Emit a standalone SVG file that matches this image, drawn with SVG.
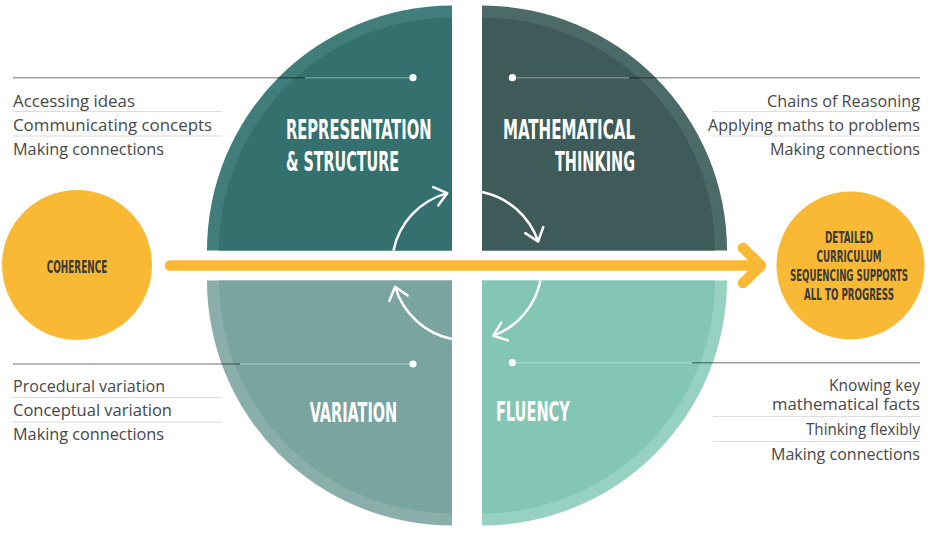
<svg xmlns="http://www.w3.org/2000/svg" width="940" height="543" viewBox="0 0 940 543">
<defs>
<style>
.title{font-family:"Liberation Sans Narrow","DejaVu Sans Condensed","Roboto",sans-serif;font-weight:700;font-size:26px;fill:#ffffff}
.ytxt{font-family:"Liberation Sans Narrow","DejaVu Sans Condensed","Roboto",sans-serif;font-weight:700;fill:#3a3a3a}
.item{font-family:"Open Sans","Noto Sans",sans-serif;font-size:16px;fill:#474747}
.sep{stroke:#dcdcdc;stroke-width:1.2}
.lead{stroke:#000;stroke-opacity:0.38;stroke-width:1.6}
.leadin{stroke:#fff;stroke-opacity:0.28;stroke-width:1.6}
.dot{fill:#ffffff}
.cyc{fill:none;stroke:#ffffff;stroke-width:2.5;marker-end:url(#ah)}
</style>
<marker id="ah" markerUnits="userSpaceOnUse" viewBox="-15 -15 30 30" markerWidth="30" markerHeight="30" refX="0" refY="0" orient="auto" overflow="visible">
<path d="M-12,-9.5 L0,0 L-12,9.5" fill="none" stroke="#ffffff" stroke-width="2.5" stroke-linecap="round" stroke-linejoin="round"/>
</marker>
</defs>
<rect width="940" height="543" fill="#ffffff"/>

<g id="representation-structure">
<path d="M452,250.5 L207,250.5 A245,245 0 0 1 452,5.5 Z" fill="#417d7b"/>
<path d="M452,250.5 L219,250.5 A233,233 0 0 1 452,17.5 Z" fill="#33706e"/>
<text class="title" x="286" y="139.3" textLength="145.5" lengthAdjust="spacingAndGlyphs">REPRESENTATION</text>
<text class="title" x="286" y="171" textLength="113" lengthAdjust="spacingAndGlyphs">&amp; STRUCTURE</text>
</g>

<g id="mathematical-thinking">
<path d="M482,250.5 L482,5.5 A245,245 0 0 1 727,250.5 Z" fill="#4b6a68"/>
<path d="M482,250.5 L482,17.5 A233,233 0 0 1 715,250.5 Z" fill="#3e5a59"/>
<text class="title" x="635" y="139.3" text-anchor="end" textLength="132" lengthAdjust="spacingAndGlyphs">MATHEMATICAL</text>
<text class="title" x="635" y="171" text-anchor="end" textLength="80" lengthAdjust="spacingAndGlyphs">THINKING</text>
</g>

<g id="variation">
<path d="M452,280.5 L452,525.5 A245,245 0 0 1 207,280.5 Z" fill="#8aafab"/>
<path d="M452,280.5 L452,513.5 A233,233 0 0 1 219,280.5 Z" fill="#79a4a0"/>
<text class="title" x="309.7" y="422" textLength="87.5" lengthAdjust="spacingAndGlyphs">VARIATION</text>
</g>

<g id="fluency">
<path d="M482,280.5 L727,280.5 A245,245 0 0 1 482,525.5 Z" fill="#96d1c1"/>
<path d="M482,280.5 L715,280.5 A233,233 0 0 1 482,513.5 Z" fill="#82c6b3"/>
<text class="title" x="495.9" y="420.5" textLength="74" lengthAdjust="spacingAndGlyphs">FLUENCY</text>
</g>

<g id="coherence">
<circle cx="77" cy="265" r="75" fill="#f9b934"/>
<text class="ytxt" x="77" y="273" font-size="17" text-anchor="middle" textLength="60.5" lengthAdjust="spacingAndGlyphs">COHERENCE</text>
</g>

<g id="outcome">
<circle cx="850.5" cy="265.5" r="74" fill="#f9b934"/>
<text class="ytxt" x="849" y="242.5" font-size="15.5" text-anchor="middle" textLength="48" lengthAdjust="spacingAndGlyphs">DETAILED</text>
<text class="ytxt" x="849" y="261.5" font-size="15.5" text-anchor="middle" textLength="65" lengthAdjust="spacingAndGlyphs">CURRICULUM</text>
<text class="ytxt" x="849" y="280.5" font-size="15.5" text-anchor="middle" textLength="118" lengthAdjust="spacingAndGlyphs">SEQUENCING SUPPORTS</text>
<text class="ytxt" x="849" y="299.5" font-size="15.5" text-anchor="middle" textLength="90" lengthAdjust="spacingAndGlyphs">ALL TO PROGRESS</text>
</g>

<g id="list-representation">
<text class="item" x="13" y="106.7" textLength="122" lengthAdjust="spacingAndGlyphs">Accessing ideas</text>
<line class="sep" x1="13" y1="111.5" x2="222" y2="111.5"/>
<text class="item" x="13" y="131" textLength="199" lengthAdjust="spacingAndGlyphs">Communicating concepts</text>
<line class="sep" x1="13" y1="136" x2="222" y2="136"/>
<text class="item" x="13" y="155" textLength="151" lengthAdjust="spacingAndGlyphs">Making connections</text>
</g>

<g id="list-mathematical">
<text class="item" x="920" y="106.7" text-anchor="end" textLength="153" lengthAdjust="spacingAndGlyphs">Chains of Reasoning</text>
<line class="sep" x1="713" y1="111.5" x2="920" y2="111.5"/>
<text class="item" x="920" y="131" text-anchor="end" textLength="212" lengthAdjust="spacingAndGlyphs">Applying maths to problems</text>
<line class="sep" x1="713" y1="136" x2="920" y2="136"/>
<text class="item" x="920" y="155" text-anchor="end" textLength="150" lengthAdjust="spacingAndGlyphs">Making connections</text>
</g>

<g id="list-variation">
<text class="item" x="13" y="392" textLength="152" lengthAdjust="spacingAndGlyphs">Procedural variation</text>
<line class="sep" x1="13" y1="397.5" x2="222" y2="397.5"/>
<text class="item" x="13" y="416" textLength="159" lengthAdjust="spacingAndGlyphs">Conceptual variation</text>
<line class="sep" x1="13" y1="422" x2="222" y2="422"/>
<text class="item" x="13" y="440" textLength="151" lengthAdjust="spacingAndGlyphs">Making connections</text>
</g>

<g id="list-fluency">
<text class="item" text-anchor="end" font-size="15"><tspan x="920" y="391" textLength="91" lengthAdjust="spacingAndGlyphs">Knowing key</tspan><tspan x="920" y="409.5" textLength="148" lengthAdjust="spacingAndGlyphs">mathematical facts</tspan></text>
<line class="sep" x1="713" y1="416.5" x2="920" y2="416.5"/>
<text class="item" x="920" y="435" text-anchor="end" textLength="114" lengthAdjust="spacingAndGlyphs">Thinking flexibly</text>
<line class="sep" x1="713" y1="441.5" x2="920" y2="441.5"/>
<text class="item" x="920" y="459.5" text-anchor="end" textLength="149" lengthAdjust="spacingAndGlyphs">Making connections</text>
</g>

<g id="connectors">
<line class="lead" x1="13" y1="77.7" x2="305" y2="77.7"/>
<line class="leadin" x1="305" y1="77.7" x2="413" y2="77.7"/>
<circle class="dot" cx="413" cy="77.7" r="3.6"/>
<line class="lead" x1="629" y1="77.7" x2="920" y2="77.7"/>
<line class="leadin" x1="512.4" y1="77.7" x2="629" y2="77.7"/>
<circle class="dot" cx="512.4" cy="77.7" r="3.6"/>
<line class="lead" x1="13" y1="364" x2="240" y2="364"/>
<line class="leadin" x1="240" y1="364" x2="413" y2="364"/>
<circle class="dot" cx="413" cy="364" r="3.6"/>
<line class="lead" x1="692" y1="362.7" x2="920" y2="362.7"/>
<line class="leadin" x1="512.4" y1="362.7" x2="692" y2="362.7"/>
<circle class="dot" cx="512.4" cy="362.7" r="3.6"/>

<path class="cyc" d="M393.5,250.5 A75,75 0 0 1 447.3,193.1"/>
<path class="cyc" d="M482,192 A75,75 0 0 1 538.1,241.5"/>
<path class="cyc" d="M540.5,280.5 A75,75 0 0 1 493.3,335.7"/>
<path class="cyc" d="M452,339 A75,75 0 0 1 395.1,286.7"/>

<path d="M170,265.5 H759 M743,248 L761,265.5 L743,283" fill="none" stroke="#f9b934" stroke-width="10.5" stroke-linecap="round" stroke-linejoin="round"/>
</g>
</svg>
